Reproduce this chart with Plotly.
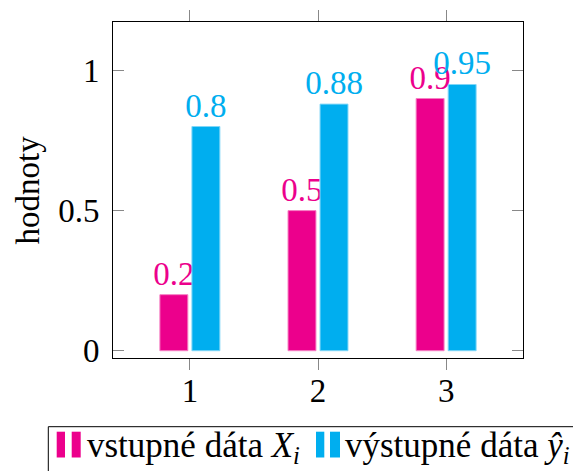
import plotly.graph_objects as go

categories = [1, 2, 3]
vstupne = [0.2, 0.5, 0.9]
vystupne = [0.8, 0.88, 0.95]
ytick_vals = [0, 0.5, 1]
ytick_text = ["0", "0.5", "1"]
series_names = ["vstupné dáta <i>X</i><sub><i>i</i></sub>",
                "výstupné dáta <i>ŷ</i><sub><i>i</i></sub>"]

PINK = "rgb(236,0,140)"
PINK_LINE = "rgb(246,128,196)"
BLUE = "rgb(0,174,239)"
BLUE_LINE = "rgb(128,214,247)"
FONT = "Liberation Serif"
FS = 33
LFS = 35

# figure / plot-area geometry (pixels)
W, H = 573, 463
ML, MR, MT, MB = 105, 58, 14, 113
PW, PH = W - ML - MR, H - MT - MB


def px(x):
    return (x - ML) / PW


def py(y):
    return (H - MB - y) / PH


fig = go.Figure()
fig.add_trace(go.Bar(
    x=categories, y=vstupne, width=0.218, offset=-0.234,
    marker=dict(color=PINK, line=dict(color=PINK_LINE, width=1)),
    text=[f"{v:g}" for v in vstupne], textposition="outside",
    textfont=dict(color=PINK, size=FS, family=FONT),
    constraintext="none", cliponaxis=False, name=series_names[0],
))
fig.add_trace(go.Bar(
    x=categories, y=vystupne, width=0.218, offset=0.016,
    marker=dict(color=BLUE, line=dict(color=BLUE_LINE, width=1)),
    text=[f"{v:g}" for v in vystupne], textposition="outside",
    textfont=dict(color=BLUE, size=FS, family=FONT),
    constraintext="none", cliponaxis=False, name=series_names[1],
))

# custom legend (pgfplots-style ybar legend)
shapes = [dict(type="rect", xref="paper", yref="paper",
               x0=px(40.3), x1=px(W + 20), y0=py(418.7), y1=py(H + 20),
               line=dict(color="black", width=1), fillcolor="white", layer="above")]
glyphs = [(PINK, [(48.7, 57.0), (63.7, 72.7)]), (BLUE, [(308.0, 316.3), (322.0, 332.0)])]
for col, bars in glyphs:
    for a, b in bars:
        shapes.append(dict(type="rect", xref="paper", yref="paper",
                           x0=px(a), x1=px(b), y0=py(423.7), y1=py(449.5),
                           line=dict(width=0), fillcolor=col, layer="above"))

annotations = [dict(text="hodnoty", textangle=-90, xref="paper", yref="paper",
                    x=px(19.5), y=0.5, xanchor="center", yanchor="middle",
                    showarrow=False, font=dict(size=FS, family=FONT))]
for name, xs in zip(series_names, [76.5, 335.0]):
    annotations.append(dict(text=name, xref="paper", yref="paper",
                            x=px(xs), y=py(439), xanchor="left", yanchor="middle",
                            showarrow=False, font=dict(size=LFS, family=FONT)))

fig.update_layout(
    width=W, height=H,
    margin=dict(l=ML, r=MR, t=MT, b=MB, autoexpand=False),
    barmode="overlay",
    plot_bgcolor="white", paper_bgcolor="white",
    font=dict(family=FONT, size=FS, color="black"),
    showlegend=False,
    xaxis=dict(range=[0.4, 3.6], tickvals=categories, ticktext=[str(c) for c in categories],
               ticks="outside", ticklen=11, tickcolor="#888888", tickwidth=1,
               showline=True, linecolor="black", linewidth=1, mirror="ticks",
               showgrid=False, zeroline=False, ticklabelstandoff=-8),
    yaxis=dict(range=[-0.026, 1.173], tickvals=ytick_vals, ticktext=ytick_text,
               ticks="inside", ticklen=11, tickcolor="#888888", tickwidth=1,
               showline=True, linecolor="black", linewidth=1, mirror="ticks",
               showgrid=False, zeroline=False, ticklabelstandoff=6),
    shapes=shapes,
    annotations=annotations,
)

fig.write_html("out.html")
